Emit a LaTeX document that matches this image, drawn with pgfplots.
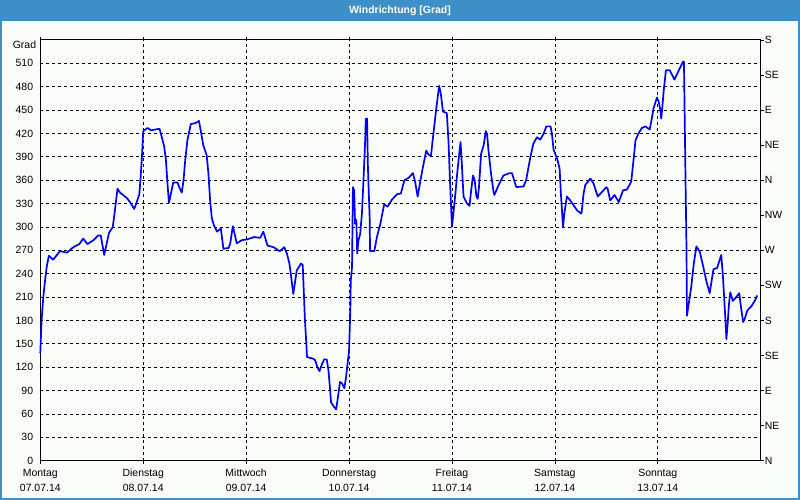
\documentclass[border=0pt]{standalone}
\usepackage{fontspec}
\setmainfont{Liberation Sans}
\usepackage{pgfplots}
\pgfplotsset{compat=1.18}
\definecolor{titlebar}{RGB}{61,143,199}
\definecolor{panelbg}{RGB}{250,252,250}
\definecolor{windline}{RGB}{0,0,240}

\begin{document}
\fontsize{10.5}{12}\selectfont
\begin{tikzpicture}
  % window frame and title bar
  \fill[panelbg] (0bp,0bp) rectangle (800bp,500bp);
  \fill[titlebar] (0bp,479bp) rectangle (800bp,500bp);
  \draw[titlebar, line width=2bp] (1bp,1bp) rectangle (799bp,499bp);
  \node[white, font=\bfseries\fontsize{10.5}{12}\selectfont] at (400bp,489.5bp) {Windrichtung [Grad]};

  \begin{axis}[
    at={(40.3bp,39.3bp)}, anchor=south west,
    width=720.4bp, height=420.8bp, scale only axis,
    xmin=0, xmax=168, ymin=0, ymax=540,
    xtick={0,24,...,144},
    xticklabels={{Montag\\07.07.14},{Dienstag\\08.07.14},{Mittwoch\\09.07.14},
      {Donnerstag\\10.07.14},{Freitag\\11.07.14},{Samstag\\12.07.14},{Sonntag\\13.07.14}},
    xticklabel style={align=center, font=\fontsize{10.5}{15.5}\selectfont, inner sep=0pt, yshift=-5bp},
    ytick={0,30,...,510},
    yticklabel style={font=\fontsize{10.5}{12}\selectfont, inner sep=0pt, xshift=-4bp},
    /pgf/number format/assume math mode=true,
    grid=major,
    major grid style={black, dash pattern=on 3bp off 3bp, line width=0.7bp},
    axis line style={black, line width=0.9bp},
    tick align=outside, major tick length=3bp,
    xtick style={black, line width=0.7bp},
    ytick style={draw=none},
    clip=false,
  ]
    \addplot[windline, line width=1.7bp, line join=round] coordinates {
      (0,138) (0.3,180) (0.7,210) (1.1,231) (1.5,249) (2.0,263) (3.0,258) (4.6,269)
      (6.2,267) (7.7,274) (9.1,278) (10.0,285) (11.0,278) (12.4,283) (13.5,289) (14.1,289)
      (14.9,264) (15.3,274) (16.0,292) (16.9,300) (17.4,321) (18.0,349) (18.6,344) (20.2,337)
      (20.9,332) (21.9,323) (22.5,332) (23.1,342) (23.4,364) (23.7,390) (24.0,423) (25.0,427)
      (25.8,424) (27.8,426) (28.3,416) (28.9,403) (29.3,386) (29.6,360) (30.0,331) (30.4,341)
      (31.0,357) (32.0,357) (32.4,351) (33.0,344) (33.4,360) (33.8,386) (34.3,411) (35.1,432)
      (36.1,433) (37.0,436) (37.4,424) (38.0,405) (38.8,392) (39.2,369) (39.6,334) (40.0,311)
      (40.5,302) (41.2,294) (42.1,298) (42.7,272) (43.9,273) (44.3,279) (44.9,301) (45.4,289)
      (45.8,279) (47.0,283) (48.2,284) (49.9,287) (51.3,286) (52.0,294) (53.0,276) (54.4,274)
      (55.5,270) (55.9,269) (56.9,274) (57.5,266) (58.1,253) (58.5,236) (59.0,214) (59.8,244)
      (60.8,253) (61.2,251) (61.5,210) (61.7,182) (62.0,154) (62.2,133) (63.6,131) (64.1,129)
      (64.6,120) (65.1,115) (65.7,124) (66.2,130) (66.8,130) (67.2,116) (67.6,90) (67.8,75)
      (68.5,69) (69.0,66) (69.4,81) (69.9,101) (70.4,99) (70.9,93) (71.3,107) (71.6,122)
      (72.0,141) (72.3,193) (72.4,231) (72.7,249) (72.9,351) (73.2,347) (73.4,304) (73.7,309)
      (73.9,266) (74.2,283) (74.6,291) (75.0,317) (75.4,364) (75.8,416) (75.9,439) (76.2,439)
      (76.4,377) (76.8,313) (76.9,269) (77.9,269) (78.5,287) (79.3,304) (79.9,321) (80.2,329)
      (81.0,326) (82.0,335) (83.2,342) (84.1,343) (84.9,360) (85.9,363) (86.9,369) (87.4,358)
      (88.0,339) (88.6,358) (89.2,376) (90.0,398) (90.5,393) (91.1,391) (91.6,416) (92.3,450)
      (93.0,481) (93.4,471) (93.9,448) (94.8,446) (95.2,409) (95.6,351) (96.0,300) (96.4,321)
      (96.8,343) (97.3,373) (97.8,399) (98.0,409) (98.3,381) (98.7,339) (99.5,330) (100.1,327)
      (100.4,343) (100.9,366) (101.3,360) (101.7,339) (102.0,336) (102.3,351) (102.8,394) (103.4,405)
      (103.9,423) (104.2,419) (104.5,399) (105.1,369) (105.7,345) (105.9,341) (106.9,354) (108.0,366)
      (109.4,369) (110.0,369) (111.0,351) (112.7,352) (113.3,360) (114.3,390) (115.0,407) (115.8,415)
      (116.6,412) (117.4,420) (118.0,429) (119.0,429) (119.3,420) (119.7,399) (120.5,388) (121.1,375)
      (121.4,343) (121.9,300) (122.2,317) (122.8,339) (123.6,334) (125.2,321) (126.2,317) (126.7,343)
      (127.1,354) (128.3,362) (129.0,356) (130.0,339) (131.0,345) (132.0,351) (132.3,349) (132.9,334)
      (133.9,341) (134.9,332) (135.9,347) (136.8,348) (137.8,358) (138.4,389) (138.8,411) (139.5,420)
      (140.3,427) (141.1,429) (142.1,425) (142.6,439) (143.0,452) (143.8,466) (144.2,461) (144.6,450)
      (144.8,439) (145.0,450) (145.4,476) (145.9,501) (146.8,501) (147.9,489) (148.9,501) (149.9,512)
      (150.1,512) (150.3,429) (150.5,347) (150.7,270) (150.8,186) (151.2,201) (151.8,223) (152.4,253)
      (153.0,275) (153.8,268) (154.6,249) (155.3,231) (156.1,215) (156.7,236) (157.0,246) (157.8,247)
      (158.4,257) (158.8,264) (159.2,236) (159.8,178) (160.0,156) (160.3,176) (160.6,201) (160.9,216)
      (161.5,205) (162.3,210) (163.0,215) (163.4,197) (163.9,178) (164.2,181) (164.9,193) (165.8,198)
      (166.6,205) (167.2,212)
    };
    \node[anchor=east, inner sep=0pt] at ([xshift=-4bp,yshift=-5bp]axis cs:0,540) {Grad};
  \end{axis}

  % compass scale on the right
  \begin{axis}[
    at={(40.3bp,39.3bp)}, anchor=south west,
    width=720.4bp, height=420.8bp, scale only axis,
    xmin=0, xmax=168, ymin=0, ymax=540,
    axis x line=none, axis y line*=right,
    ytick={0,45,...,540},
    yticklabels={N,NE,E,SE,S,SW,W,NW,N,NE,E,SE,S},
    yticklabel style={font=\fontsize{10.5}{12}\selectfont, inner sep=0pt, xshift=1bp},
    axis line style={black, line width=0.9bp},
    tick align=outside, major tick length=3bp,
    ytick style={black, line width=0.7bp},
  ]
    \addplot[draw=none] coordinates {(0,0)};
  \end{axis}
\end{tikzpicture}
\end{document}
